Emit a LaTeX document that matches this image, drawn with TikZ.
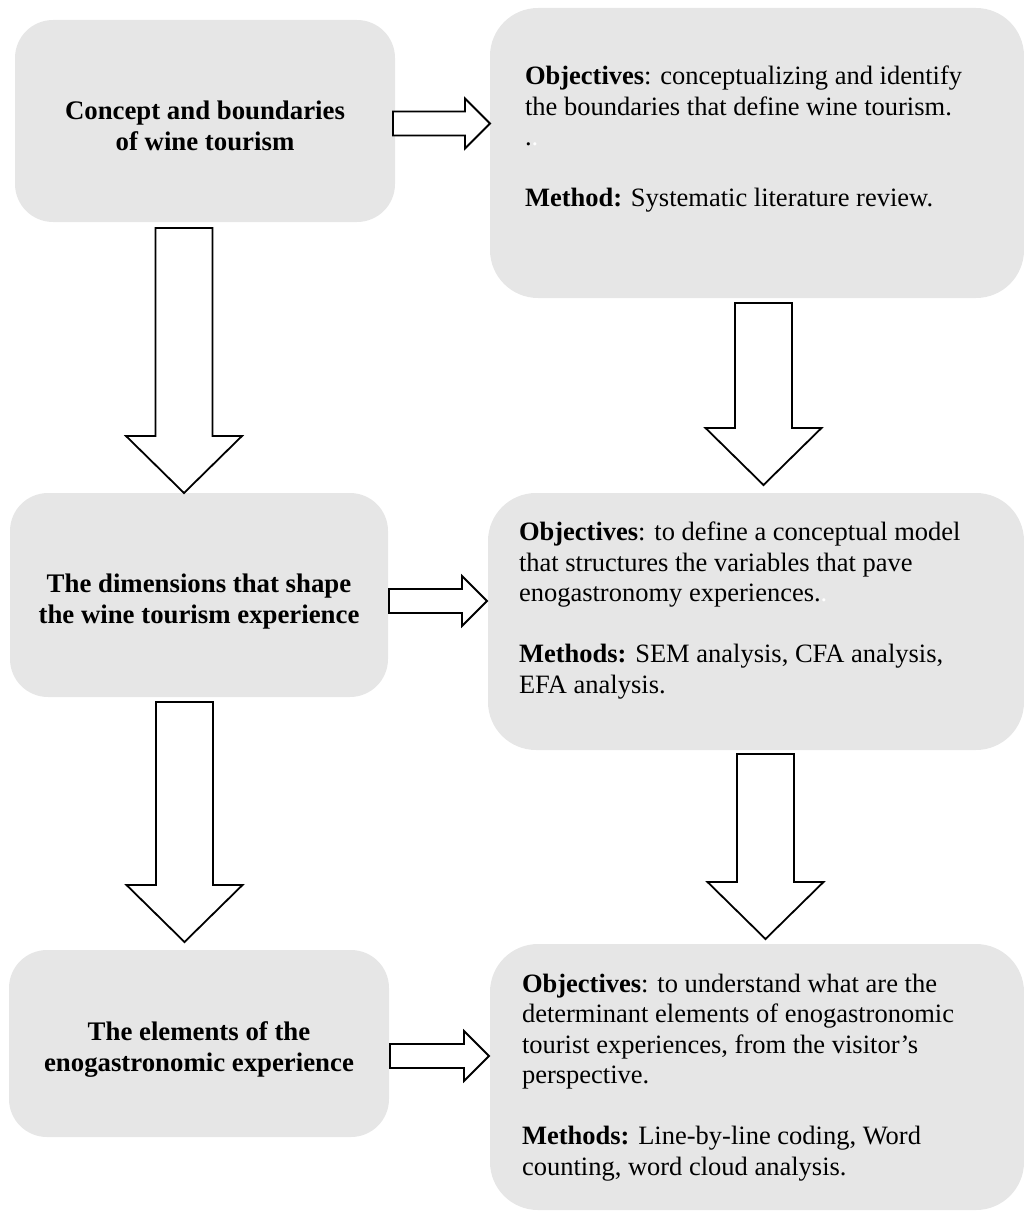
\documentclass[tikz,border=0pt]{standalone}
\usepackage{fontspec}
\setmainfont{Liberation Serif}
\usetikzlibrary{calc}
\definecolor{boxgray}{RGB}{230,230,230}
\newcommand\bdown[2]{%
  \draw[blockarrow] ($(#1)+(-28.5,0)$) -- ($(#1)+(28.5,0)$) -- ($(#2)+(28.5,-57)$) -- ($(#2)+(58,-57)$) -- (#2) -- ($(#2)+(-58,-57)$) -- ($(#2)+(-28.5,-57)$) -- cycle;}
\newcommand\bright[2]{%
  \draw[blockarrow] ($(#1)+(0,-12)$) -- ($(#2)+(-25,-12)$) -- ($(#2)+(-25,-25)$) -- (#2) -- ($(#2)+(-25,25)$) -- ($(#2)+(-25,12)$) -- ($(#1)+(0,12)$) -- cycle;}
\begin{document}
\begin{tikzpicture}[x=1pt,y=-1pt,
  every node/.style={inner sep=0pt, outer sep=0pt},
  lbox/.style={fill=boxgray, draw=none, rounded corners=38pt},
  rbox/.style={fill=boxgray, draw=none, rounded corners=48pt},
  ltext/.style={font=\fontsize{26.8}{31}\selectfont\bfseries, align=center},
  rtext/.style={font=\fontsize{26.5}{30.5}\selectfont, align=left, anchor=north west},
  blockarrow/.style={draw=black, line width=1.8pt, fill=white, line join=miter}
]
\useasboundingbox (0,0) rectangle (1024,1212);

% boxes
\node[lbox, minimum width=380pt, minimum height=202pt] (L1) at (205,121) {};
\node[rbox, minimum width=534pt, minimum height=290pt] (R1) at (757,153) {};
\node[lbox, minimum width=378pt, minimum height=204pt] (L2) at (199,595) {};
\node[rbox, minimum width=536pt, minimum height=257pt] (R2) at (756,621.5) {};
\node[lbox, minimum width=380pt, minimum height=187pt] (L3) at (199,1043.5) {};
\node[rbox, minimum width=534pt, minimum height=266pt] (R3) at (757,1077) {};

% texts of the left boxes
\node[ltext] (L1t) at ($(L1.center)+(0,5)$) {Concept and boundaries\\of wine tourism};
\node[ltext] (L2t) at ($(L2.center)+(0,7)$) {The dimensions that shape\\the wine tourism experience};
\node[ltext] (L3t) at ($(L3.center)+(0,6)$) {The elements of the\\enogastronomic experience};

% texts of the right boxes
\node[rtext] (R1t) at (525,66) {\textbf{Objectives}: conceptualizing and identify\\the boundaries that define wine tourism.\\.\textcolor{white}{.}\\[30.5pt]\textbf{Method:} Systematic literature review.};
\node[rtext] (R2t) at (519,522) {\textbf{Objectives}: to define a conceptual model\\that structures the variables that pave\\enogastronomy experiences.\textcolor{white}{.}\\[30.5pt]\textbf{Methods:} SEM analysis, CFA analysis,\\EFA analysis.};
\node[rtext] (R3t) at (522,974) {\textbf{Objectives}: to understand what are the\\determinant elements of enogastronomic\\tourist experiences, from the visitor’s\\perspective.\\[30.5pt]\textbf{Methods:} Line-by-line coding, Word\\counting, word cloud analysis.};

% arrow end points
\coordinate (r1s) at ($(L1.east)+(-2,2.5)$);
\coordinate (r1e) at (R1.west |- r1s);
\coordinate (r2s) at ($(L2.east)+(1,6)$);
\coordinate (r2e) at ($(R2.west |- r2s)+(-1,0)$);
\coordinate (r3s) at ($(L3.east)+(1,12.5)$);
\coordinate (r3e) at ($(R3.west |- r3s)+(-1,0)$);
\coordinate (d1s) at ($(L1.south)+(-21,6)$);
\coordinate (d1e) at (d1s |- L2.north);
\coordinate (d2s) at ($(L2.south)+(-14.5,5)$);
\coordinate (d2e) at ($(d2s |- L3.north)+(0,-8)$);
\coordinate (d3s) at ($(R1.south)+(6.5,5)$);
\coordinate (d3e) at ($(d3s |- R2.north)+(0,-8)$);
\coordinate (d4s) at ($(R2.south)+(9.5,4)$);
\coordinate (d4e) at ($(d4s |- R3.north)+(0,-5)$);

% block arrows
\bright{r1s}{r1e}
\bright{r2s}{r2e}
\bright{r3s}{r3e}
\bdown{d1s}{d1e}
\bdown{d2s}{d2e}
\bdown{d3s}{d3e}
\bdown{d4s}{d4e}
\end{tikzpicture}
\end{document}
